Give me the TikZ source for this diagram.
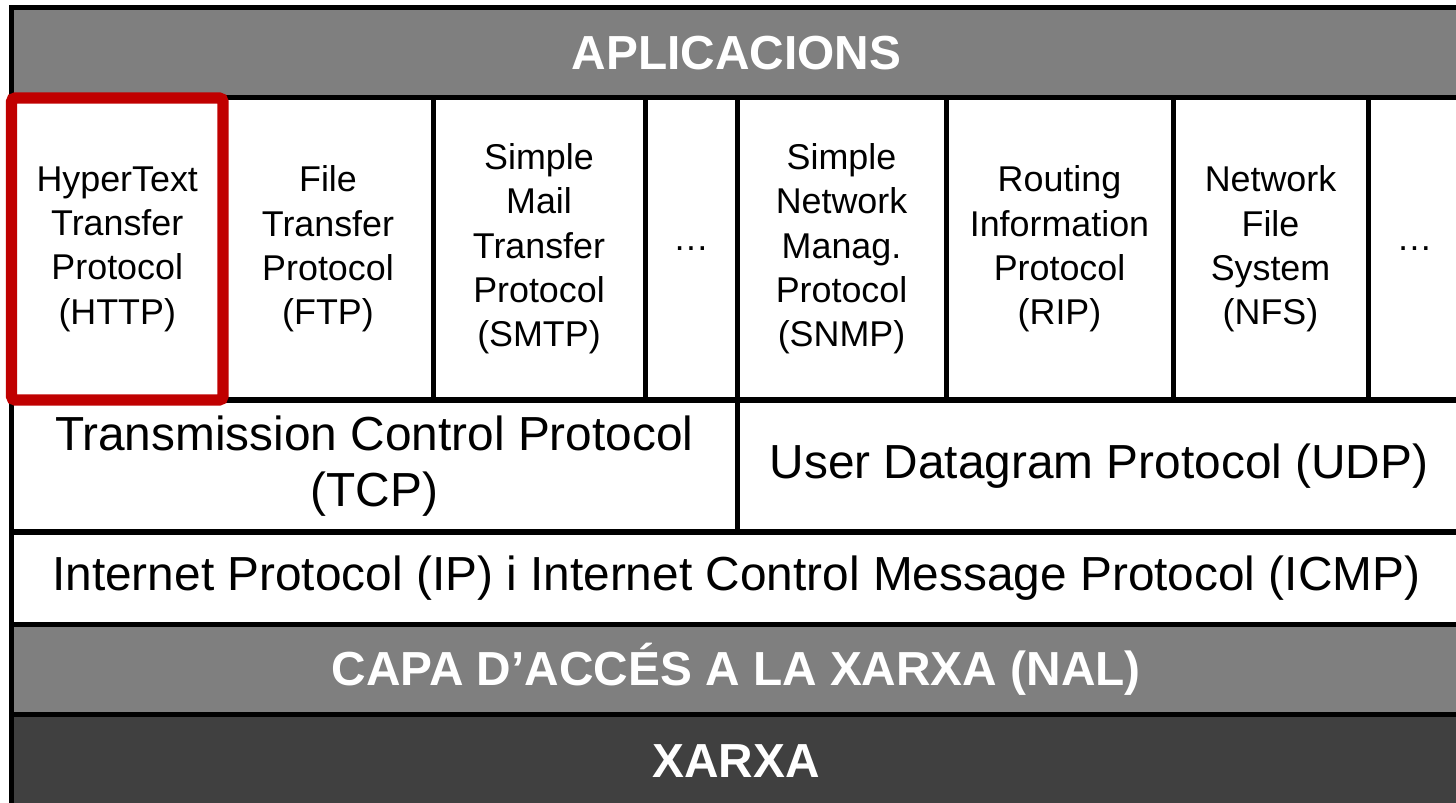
\documentclass[tikz,border=0pt]{standalone}
\usepackage{fontspec}
\setmainfont{Liberation Sans}
\usepackage{xcolor}
\usepackage{tikz}
\usetikzlibrary{positioning}

\definecolor{bandgray}{HTML}{7F7F7F}
\definecolor{netgray}{HTML}{404040}
\definecolor{hilite}{HTML}{C00000}

\begin{document}
\begin{tikzpicture}[
  cell/.style={
    draw=black, line width=2.85pt,
    inner sep=0pt, outer sep=0pt,
    align=center
  },
  app/.style={
    cell, minimum height=6.04cm,
    font=\fontsize{20.4}{25.2}\selectfont
  },
  proto/.style={
    cell, font=\fontsize{27.2}{32}\selectfont
  },
  band/.style={
    cell, text=white,
    font=\fontsize{27.2}{32}\selectfont\bfseries
  }
]
\useasboundingbox (0,0) rectangle (29.12,-16.06);

% application layer
\node[band, fill=bandgray, minimum width=28.99cm, minimum height=1.81cm,
  anchor=north west] (apl) at (0.23,-0.15) {APLICACIONS};

\node[app, minimum width=4.23cm, below right=0pt of apl.south west] (http)
  {HyperText\\Transfer\\Protocol\\(HTTP)};
\node[app, minimum width=4.2cm, right=0pt of http] (ftp)
  {File\\Transfer\\Protocol\\(FTP)};
\node[app, minimum width=4.24cm, right=0pt of ftp] (smtp)
  {Simple\\Mail\\Transfer\\Protocol\\(SMTP)};
\node[app, minimum width=1.84cm, right=0pt of smtp] (dotsA) {…};
\node[app, minimum width=4.18cm, right=0pt of dotsA] (snmp)
  {Simple\\Network\\Manag.\\Protocol\\(SNMP)};
\node[app, minimum width=4.54cm, right=0pt of snmp] (rip)
  {Routing\\Information\\Protocol\\(RIP)};
\node[app, minimum width=3.9cm, right=0pt of rip] (nfs)
  {Network\\File\\System\\(NFS)};
\node[app, minimum width=1.86cm, right=0pt of nfs] (dotsB) {…};

% transport layer
\node[proto, minimum width=14.51cm, minimum height=2.64cm,
  below right=0pt of http.south west] (tcp)
  {Transmission Control Protocol\\(TCP)};
\node[proto, minimum width=14.48cm, minimum height=2.64cm,
  right=0pt of tcp] (udp) {User Datagram Protocol (UDP)};

% internet layer
\node[proto, minimum width=28.99cm, minimum height=1.85cm,
  below right=0pt of tcp.south west] (ip)
  {Internet Protocol (IP) i Internet Control Message Protocol (ICMP)};

% lower layers
\node[band, fill=bandgray, minimum width=28.99cm, minimum height=1.8cm,
  below right=0pt of ip.south west] (nal) {CAPA D’ACCÉS A LA XARXA (NAL)};
\node[band, fill=netgray, minimum width=28.99cm, minimum height=1.85cm,
  below right=0pt of nal.south west] (xarxa) {XARXA};

% highlight HTTP
\draw[hilite, line width=6.3pt, rounded corners=2pt]
  (http.north west) rectangle (http.south east);

\end{tikzpicture}
\end{document}
